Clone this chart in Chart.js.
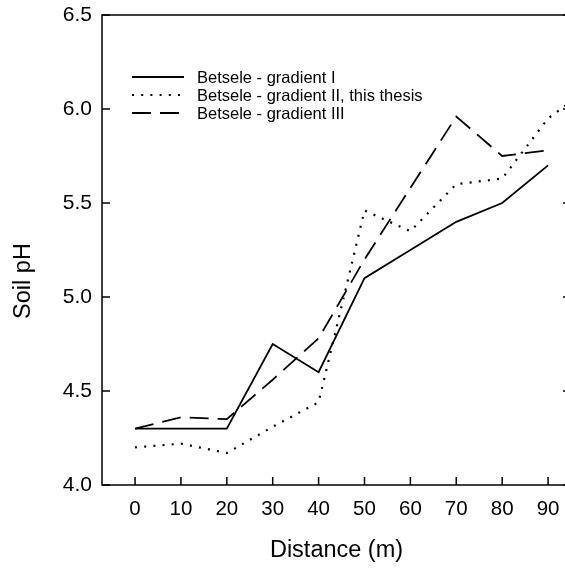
<!DOCTYPE html>
<html>
<head>
<meta charset="utf-8">
<script src="https://cdn.jsdelivr.net/npm/chart.js@4"></script>
<style>
  html, body { margin: 0; padding: 0; background: #fff; overflow: hidden; }
  #wrap { width: 565px; height: 574px; overflow: hidden; }
</style>
</head>
<body>
<div id="wrap"><canvas id="chart" width="580" height="574"></canvas></div>
<script>
// data
const distance = [0, 10, 20, 30, 40, 50, 60, 70, 80, 90];
const distanceII = [0, 10, 20, 30, 40, 50, 60, 70, 80, 90, 100];
const gradientI = [4.3, 4.3, 4.3, 4.75, 4.6, 5.1, 5.25, 5.4, 5.5, 5.7];
const gradientII = [4.2, 4.22, 4.17, 4.31, 4.44, 5.46, 5.35, 5.6, 5.63, 5.95, 6.13];
const gradientIII = [4.3, 4.36, 4.35, 4.56, 4.78, 5.2, 5.58, 5.96, 5.75, 5.78];
const yTicks = [4.0, 4.5, 5.0, 5.5, 6.0, 6.5];

const FONT = '"Liberation Sans", Arial, sans-serif';

function toPoints(xs, ys) {
    return ys.map((y, i) => ({ x: xs[i], y: y }));
}

// frame, inward ticks, axis titles and legend inside the plot
const decorations = {
    id: 'decorations',
    afterDraw(chart) {
        const ctx = chart.ctx;
        const { left, top, right, bottom } = chart.chartArea;
        const xs = chart.scales.x;
        const ys = chart.scales.y;
        ctx.save();
        ctx.strokeStyle = '#000';
        ctx.lineWidth = 1.5;
        ctx.setLineDash([]);
        ctx.strokeRect(left, top, right - left, bottom - top);

        ctx.beginPath();
        distance.forEach(v => {
            const px = xs.getPixelForValue(v);
            ctx.moveTo(px, bottom);
            ctx.lineTo(px, bottom - 8);
        });
        yTicks.forEach(v => {
            const py = ys.getPixelForValue(v);
            ctx.moveTo(left, py);
            ctx.lineTo(left + 8, py);
            ctx.moveTo(right, py);
            ctx.lineTo(right - 8, py);
        });
        ctx.stroke();

        // axis titles
        ctx.fillStyle = '#000';
        ctx.font = '23.5px ' + FONT;
        ctx.textAlign = 'center';
        ctx.textBaseline = 'middle';
        ctx.fillText('Distance (m)', (left + right) / 2, 551);
        ctx.save();
        ctx.translate(24, 281);
        ctx.rotate(-Math.PI / 2);
        ctx.fillText('Soil pH', 0, 0);
        ctx.restore();

        // legend
        ctx.font = '16.5px ' + FONT;
        ctx.textAlign = 'left';
        chart.data.datasets.forEach((ds, i) => {
            const y = top + 62 + i * 18;
            ctx.beginPath();
            ctx.lineWidth = ds.borderWidth;
            ctx.setLineDash(ds.borderDash || []);
            ctx.moveTo(left + 30, y);
            ctx.lineTo(left + 82, y);
            ctx.stroke();
            ctx.setLineDash([]);
            ctx.fillText(ds.label, left + 95, y + 1);
        });
        ctx.restore();
    }
};

const ctx = document.getElementById('chart').getContext('2d');
const chart = new Chart(ctx, {
    type: 'line',
    data: {
        datasets: [
            {
                label: 'Betsele - gradient I',
                data: toPoints(distance, gradientI),
                borderColor: '#000',
                borderWidth: 1.8,
                pointRadius: 0,
                fill: false
            },
            {
                label: 'Betsele - gradient II, this thesis',
                data: toPoints(distanceII, gradientII),
                borderColor: '#000',
                borderWidth: 2.2,
                borderDash: [2, 7.2],
                pointRadius: 0,
                fill: false
            },
            {
                label: 'Betsele - gradient III',
                data: toPoints(distance, gradientIII),
                borderColor: '#000',
                borderWidth: 1.8,
                borderDash: [19, 9],
                pointRadius: 0,
                fill: false
            }
        ]
    },
    options: {
        responsive: false,
        animation: false,
        layout: { padding: { top: 15, right: 9, left: 0, bottom: 0 } },
        plugins: {
            legend: { display: false },
            tooltip: { enabled: false }
        },
        scales: {
            x: {
                type: 'linear',
                min: -7.2,
                max: 95,
                grid: { display: false, drawTicks: false },
                border: { display: false },
                afterBuildTicks: scale => {
                    scale.ticks = distance.map(v => ({ value: v }));
                },
                afterFit: scale => {
                    scale.height = 89;
                    scale.paddingLeft = 0;
                    scale.paddingRight = 0;
                },
                ticks: {
                    color: '#000',
                    padding: 12,
                    maxRotation: 0,
                    autoSkip: false,
                    font: { family: FONT, size: 20.5 }
                }
            },
            y: {
                min: 4,
                max: 6.5,
                grid: { display: false, drawTicks: false },
                border: { display: false },
                afterBuildTicks: scale => {
                    scale.ticks = yTicks.map(v => ({ value: v }));
                },
                afterFit: scale => {
                    scale.width = 102;
                    scale.paddingTop = 0;
                    scale.paddingBottom = 0;
                },
                ticks: {
                    color: '#000',
                    padding: 10,
                    callback: v => Number(v).toFixed(1),
                    font: { family: FONT, size: 21 }
                }
            }
        }
    },
    plugins: [decorations]
});
</script>
</body>
</html>
